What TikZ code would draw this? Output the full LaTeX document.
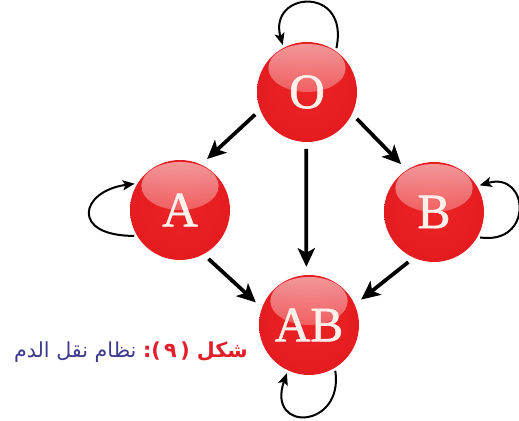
\documentclass[tikz,border=0pt]{standalone}
\usepackage{fontspec}
\setmainfont{Liberation Serif}
\newfontfamily\ballfont[FakeBold=1.2]{Liberation Serif}
\newfontfamily\arabicfont[Script=Arabic]{DejaVu Sans}
\TeXXeTstate=1
\usetikzlibrary{arrows.meta,fadings,shadings}
\definecolor{sphA}{RGB}{238,36,38}
\definecolor{sphB}{RGB}{228,28,32}
\definecolor{sphC}{RGB}{200,16,22}
\definecolor{sphD}{RGB}{214,50,54}
\definecolor{capred}{RGB}{226,30,40}
\definecolor{capblue}{RGB}{62,58,142}
\definecolor{lettercol}{RGB}{255,240,236}
\pgfdeclareradialshading{sph}{\pgfpoint{0bp}{4bp}}{color(0bp)=(sphA); color(26bp)=(sphB); color(46bp)=(sphC); color(52bp)=(sphD); color(60bp)=(sphD)}
\tikzfading[name=hlfade, top color=transparent!45, bottom color=transparent!100]
\begin{document}
\begin{tikzpicture}[x=0.75pt,y=0.75pt,
  ball/.style={circle, minimum size=75pt, inner sep=0pt, shading=sph, text=lettercol,
    font=\ballfont\fontsize{37}{37}\selectfont,
    path picture={\fill[white, path fading=hlfade] ([yshift=18pt]path picture bounding box.center) ellipse [x radius=29pt, y radius=18pt];}},
  link/.style={line width=2.8pt, -{Stealth[length=14pt,width=13pt,inset=3.5pt]}, shorten >=6pt, shorten <=5pt},
  selfloop/.style={line width=1.5pt, -{Stealth[length=9pt,width=7.5pt,inset=2pt]}, shorten >=2pt, shorten <=2pt}]
\useasboundingbox (0,0) rectangle (519,421);
\node[ball] (O) at (307,329) {O};
\node[ball] (A) at (180,211) {A};
\node[ball] (B) at (434,209) {B};
\node[ball] (AB) at (309,96) {AB};
\draw[link] (O.201) -- (A.65);
\draw[link] (O.-26) -- (B.123);
\draw[link] (O.269) -- (AB.93);
\draw[link] (A.-62) -- (AB.160);
\draw[link] (B.246) -- (AB.24);
\draw[selfloop] (O.55) .. controls (350,436) and (268,430) .. (O.118);
\draw[selfloop] (A.211) .. controls (70,185) and (80,230) .. (A.148);
\draw[selfloop] (B.-30) .. controls (534,176) and (529,250) .. (B.31);
\draw[selfloop] (AB.301) .. controls (344,-8) and (266,-12) .. (AB.245);
\node[anchor=east, inner sep=0pt, font=\arabicfont\fontsize{15.5}{18}\selectfont] (cap) at (248,69)
  {{\color{capblue}\beginR نظام نقل الدم\endR} {\color{capred}\bfseries\beginR شكل (\,٩\,):\endR}};
\end{tikzpicture}
\end{document}
